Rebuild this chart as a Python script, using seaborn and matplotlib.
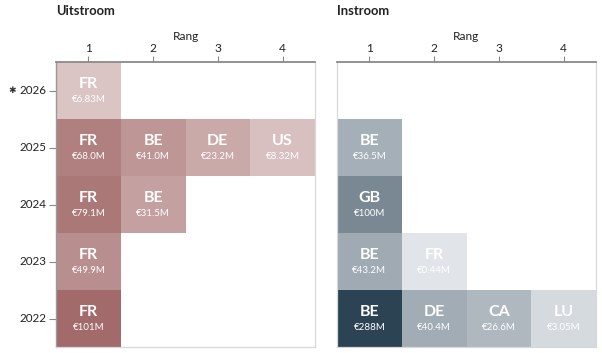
import numpy as np
import pandas as pd
import matplotlib
matplotlib.use("Agg")
import matplotlib.pyplot as plt
from matplotlib.colors import LinearSegmentedColormap, PowerNorm
from matplotlib.transforms import blended_transform_factory
import seaborn as sns

# ---------------- data ----------------
years = [2026, 2025, 2024, 2023, 2022]
ranks = [1, 2, 3, 4]
year_labels = ["2026", "2025", "2024", "2023", "2022"]
marked_year = "\u2731"  # marker shown before the current (partial) year

# Uitstroom (outflow): country codes and values (M EUR) per year, by rank
out_codes = [
    ["FR", None, None, None],
    ["FR", "BE", "DE", "US"],
    ["FR", "BE", None, None],
    ["FR", None, None, None],
    ["FR", None, None, None],
]
out_values = [
    [6.83, np.nan, np.nan, np.nan],
    [68.0, 41.0, 23.2, 8.32],
    [79.1, 31.5, np.nan, np.nan],
    [49.9, np.nan, np.nan, np.nan],
    [101, np.nan, np.nan, np.nan],
]

# Instroom (inflow)
in_codes = [
    [None, None, None, None],
    ["BE", None, None, None],
    ["GB", None, None, None],
    ["BE", "FR", None, None],
    ["BE", "DE", "CA", "LU"],
]
in_values = [
    [np.nan, np.nan, np.nan, np.nan],
    [36.5, np.nan, np.nan, np.nan],
    [100, np.nan, np.nan, np.nan],
    [43.2, 0.44, np.nan, np.nan],
    [288, 40.4, 26.6, 3.05],
]

titles = ["Uitstroom", "Instroom"]

# ---------------- style ----------------
sns.set_theme(style="white")
plt.rcParams["font.family"] = ["Lato", "DejaVu Sans"]

FONT = ["Lato", "DejaVu Sans"]


def fmt_val(v):
    if v >= 100:
        s = f"{v:.0f}"
    elif v >= 10:
        s = f"{v:.1f}"
    else:
        s = f"{v:.2f}"
    return f"\u20ac{s}M"


cmap_out = LinearSegmentedColormap.from_list("out", ["#efe3e3", "#a26a6a"])
cmap_in = LinearSegmentedColormap.from_list("in", ["#e8ebee", "#2c4353"])

fig = plt.figure(figsize=(6.02, 3.53), dpi=100)
W, H = 602, 353


def px_axes(x0, y0, x1, y1):
    return fig.add_axes([x0 / W, 1 - y1 / H, (x1 - x0) / W, (y1 - y0) / H])


ax_out = px_axes(56, 62, 315, 347)
ax_in = px_axes(337, 62, 596, 347)

panels = [
    (ax_out, out_codes, out_values, cmap_out, True),
    (ax_in, in_codes, in_values, cmap_in, False),
]

for (ax, codes, vals, cmap, show_y), title in zip(panels, titles):
    df = pd.DataFrame(vals, index=years, columns=ranks)
    vmax = np.nanmax(df.values)
    sns.heatmap(df, ax=ax, cmap=cmap, norm=PowerNorm(0.5, vmin=0, vmax=vmax),
                cbar=False, linewidths=0, square=False)
    for i in range(len(years)):
        for j in range(len(ranks)):
            c = codes[i][j]
            v = vals[i][j]
            if c is None:
                continue
            ax.text(j + 0.5, i + 0.39, c, ha="center", va="center",
                    color="white", fontsize=11.5, fontweight="bold", family=FONT)
            ax.text(j + 0.5, i + 0.65, fmt_val(v), ha="center", va="center",
                    color="white", fontsize=7, family=FONT)

    ax.xaxis.tick_top()
    ax.xaxis.set_label_position("top")
    ax.set_xticks([r - 0.5 for r in ranks])
    ax.set_xticklabels([str(r) for r in ranks], fontsize=8.6, color="#222222")
    ax.set_xlabel("Rang", fontsize=8.6, color="#222222", labelpad=2)
    ax.tick_params(axis="x", top=True, bottom=False, length=4, width=0.8,
                   color="#888888", pad=2)
    if show_y:
        ax.set_yticks([i + 0.5 for i in range(len(years))])
        ax.set_yticklabels(year_labels, rotation=0, fontsize=8.4, color="#222222")
        ax.tick_params(axis="y", left=True, length=5, width=0.8,
                       color="#888888", pad=2)
        trans = blended_transform_factory(fig.transFigure, ax.transData)
        ax.text(12 / W, 0.5, marked_year, transform=trans,
                ha="center", va="center", fontsize=6.5, color="#333333",
                family=["DejaVu Sans"], clip_on=False)
    else:
        ax.set_yticks([])
    ax.set_ylabel("")

    for name, sp in ax.spines.items():
        sp.set_visible(True)
    ax.spines["top"].set_color("#8a8a8a")
    ax.spines["top"].set_linewidth(1.3)
    ax.spines["right"].set_color("#d8d8d8")
    ax.spines["bottom"].set_color("#d8d8d8")
    ax.spines["right"].set_linewidth(0.9)
    ax.spines["bottom"].set_linewidth(0.9)
    if show_y:
        ax.spines["left"].set_color("#9a9a9a")
        ax.spines["left"].set_linewidth(1.0)
    else:
        ax.spines["left"].set_color("#d8d8d8")
        ax.spines["left"].set_linewidth(0.9)

    bb = ax.get_position()
    fig.text(bb.x0, 1 - 11 / H, title, ha="left", va="center",
             fontsize=9.4, fontweight="bold", color="#222222", family=FONT)

fig.savefig("out.png", dpi=100)
